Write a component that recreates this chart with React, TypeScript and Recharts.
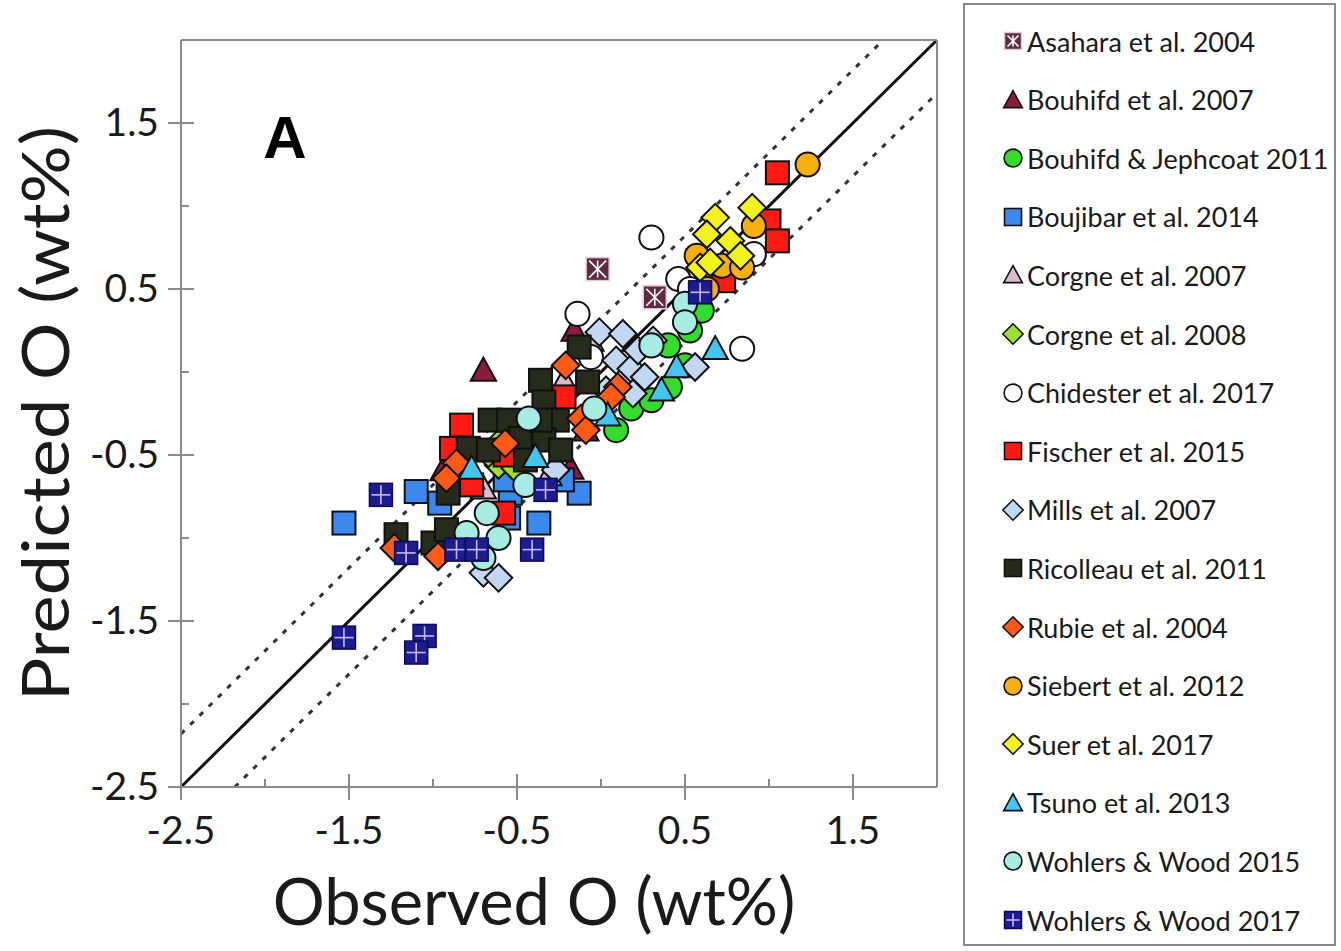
import { ReferenceLine, Scatter, ScatterChart, XAxis, YAxis } from "recharts";

type Pair = [number, number];
type Kind = "asterisk" | "triangle" | "circle" | "square" | "diamond" | "cross";

// observed vs predicted O (wt%) for each study
const asahara2004: Pair[] = [[-0.02, 0.62], [0.32, 0.45]];
const bouhifd2007: Pair[] = [[-0.7, 0.01], [-0.18, -0.58], [-0.09, -0.35], [-0.16, 0.25], [-0.94, -0.59]];
const bouhifdJephcoat2011: Pair[] = [
  [0.6, 0.37], [0.53, 0.25], [0.4, 0.16], [0.5, 0.04], [0.41, -0.09], [0.18, -0.22], [0.09, -0.35], [0.3, -0.17],
];
const boujibar2014: Pair[] = [
  [-1.53, -0.91], [-1.1, -0.72], [-0.96, -0.79], [-0.54, -0.73], [-0.55, -0.88], [-0.37, -0.91], [-0.13, -0.73],
  [-0.23, -0.65], [-0.57, -0.65],
];
const corgne2007: Pair[] = [[-0.7, -0.7], [-0.22, -0.05], [-0.31, -0.62], [-0.06, 0.19], [-0.77, -0.64]];
const corgne2008: Pair[] = [[-0.61, -0.56], [-0.58, -0.4], [-0.67, -0.49], [-0.51, -0.58]];
const chidester2017: Pair[] = [
  [-0.14, 0.35], [0.3, 0.81], [0.46, 0.56], [0.53, 0.5], [0.84, 0.14], [0.91, 0.71], [-0.06, 0.09],
];
const fischer2015: Pair[] = [
  [1.05, 1.2], [1.0, 0.91], [1.05, 0.79], [0.73, 0.55], [-0.22, -0.15], [-0.83, -0.32], [-0.89, -0.46],
  [-0.58, -0.85], [-0.77, -0.68], [-0.57, -0.5],
];
const mills2007: Pair[] = [
  [-0.01, 0.24], [0.13, 0.23], [0.09, 0.07], [0.18, 0.02], [0.26, -0.03], [0.19, -0.13], [0.56, 0.03],
  [0.22, 0.13], [0.31, 0.19], [0.03, -0.11], [-0.7, -1.21], [-0.61, -1.24], [-0.27, -0.59],
];
const ricolleau2011: Pair[] = [
  [-0.13, 0.15], [-0.36, -0.05], [-0.08, -0.06], [-0.34, -0.18], [-0.66, -0.29], [-0.55, -0.29], [-0.26, -0.29],
  [-0.79, -0.46], [-0.67, -0.47], [-0.34, -0.41], [-0.24, -0.47], [-0.48, -0.4], [-0.91, -0.73], [-1.22, -0.98],
  [-1.0, -1.03], [-0.92, -0.95], [-0.36, -0.29], [-0.45, -0.53],
];
const rubie2004: Pair[] = [
  [-0.21, 0.04], [0.1, -0.09], [0.06, -0.15], [-0.12, -0.28], [-0.09, -0.35], [-0.57, -0.43], [-0.86, -0.55],
  [-0.92, -0.64], [-1.23, -1.06], [-0.97, -1.11],
];
const siebert2012: Pair[] = [[1.23, 1.25], [0.91, 0.88], [0.57, 0.7], [0.72, 0.64], [0.84, 0.63], [0.63, 0.5]];
const suer2017: Pair[] = [[0.68, 0.93], [0.9, 0.99], [0.63, 0.83], [0.77, 0.79], [0.83, 0.7], [0.59, 0.63], [0.65, 0.66]];
const tsuno2013: Pair[] = [[0.68, 0.14], [0.45, 0.03], [0.36, -0.11], [0.04, -0.26], [-0.39, -0.51], [-0.77, -0.58]];
const wohlersWood2015: Pair[] = [
  [0.5, 0.41], [0.5, 0.3], [0.3, 0.16], [-0.04, -0.22], [-0.43, -0.28], [-0.45, -0.68], [-0.68, -0.85],
  [-0.61, -1.0], [-0.8, -0.97], [-0.7, -1.12],
];
const wohlersWood2017: Pair[] = [
  [-1.31, -0.74], [-1.16, -1.09], [-0.86, -1.07], [-0.74, -1.07], [-0.33, -0.71], [-0.41, -1.07], [-1.53, -1.6],
  [-1.05, -1.59], [-1.1, -1.69], [0.59, 0.48],
];

const axisTicks = [-2.5, -2, -1.5, -1, -0.5, 0, 0.5, 1, 1.5, 2];
const labelledTicks = [-2.5, -1.5, -0.5, 0.5, 1.5];
const bandOffset = 0.32;

const studies: { name: string; data: Pair[]; kind: Kind; fill: string }[] = [
  { name: "Asahara et al. 2004", data: asahara2004, kind: "asterisk", fill: "#5e2c3e" },
  { name: "Bouhifd et al. 2007", data: bouhifd2007, kind: "triangle", fill: "#8c1c3c" },
  { name: "Bouhifd & Jephcoat 2011", data: bouhifdJephcoat2011, kind: "circle", fill: "#33dd2a" },
  { name: "Boujibar et al. 2014", data: boujibar2014, kind: "square", fill: "#3b88ee" },
  { name: "Corgne et al. 2007", data: corgne2007, kind: "triangle", fill: "#dcbccc" },
  { name: "Corgne et al. 2008", data: corgne2008, kind: "diamond", fill: "#9ee02a" },
  { name: "Chidester et al. 2017", data: chidester2017, kind: "circle", fill: "#ffffff" },
  { name: "Fischer et al. 2015", data: fischer2015, kind: "square", fill: "#ff1a14" },
  { name: "Mills et al. 2007", data: mills2007, kind: "diamond", fill: "#c2d8f2" },
  { name: "Ricolleau et al. 2011", data: ricolleau2011, kind: "square", fill: "#262b1c" },
  { name: "Rubie et al. 2004", data: rubie2004, kind: "diamond", fill: "#ff5a16" },
  { name: "Siebert et al. 2012", data: siebert2012, kind: "circle", fill: "#f5b00c" },
  { name: "Suer et al. 2017", data: suer2017, kind: "diamond", fill: "#f2f21e" },
  { name: "Tsuno et al. 2013", data: tsuno2013, kind: "triangle", fill: "#42c6f0" },
  { name: "Wohlers & Wood 2015", data: wohlersWood2015, kind: "circle", fill: "#a6ece2" },
  { name: "Wohlers & Wood 2017", data: wohlersWood2017, kind: "cross", fill: "#1c1c8e" },
];

const FRAME = "#8a8a8a";
const INK = "#1a1a1a";
const FONT = "Lato, 'Open Sans', sans-serif";

function Marker({ kind, fill, cx, cy, size }: { kind: Kind; fill: string; cx: number; cy: number; size: number }) {
  const h = size / 2;
  const edge = { stroke: "#111", strokeWidth: size > 18 ? 2 : 1.6 };
  if (kind === "circle") return <circle cx={cx} cy={cy} r={h * 1.05} fill={fill} {...edge} />;
  if (kind === "diamond") {
    const d = h * 1.2;
    return <polygon points={`${cx},${cy - d} ${cx + d},${cy} ${cx},${cy + d} ${cx - d},${cy}`} fill={fill} {...edge} />;
  }
  if (kind === "triangle") {
    const w = h * 1.1;
    return <polygon points={`${cx},${cy - w} ${cx + w},${cy + h * 0.9} ${cx - w},${cy + h * 0.9}`} fill={fill} {...edge} />;
  }
  if (kind === "cross") {
    return (
      <g>
        <rect x={cx - h} y={cy - h} width={size} height={size} fill={fill} stroke="#0c0c5a" strokeWidth={1.5} />
        <line x1={cx} x2={cx} y1={cy - h + 2} y2={cy + h - 2} stroke="#c8b8f4" strokeWidth={1.6} />
        <line x1={cx - h + 2} x2={cx + h - 2} y1={cy} y2={cy} stroke="#c8b8f4" strokeWidth={1.6} />
      </g>
    );
  }
  if (kind === "asterisk") {
    const k = h - 3;
    return (
      <g>
        <rect x={cx - h} y={cy - h} width={size} height={size} fill={fill} stroke="#e8c8d4" strokeWidth={1.5} />
        <g stroke="#ffffff" strokeWidth={1.6}>
          <line x1={cx - k} y1={cy - k} x2={cx + k} y2={cy + k} />
          <line x1={cx - k} y1={cy + k} x2={cx + k} y2={cy - k} />
          <line x1={cx} y1={cy - k} x2={cx} y2={cy + k} />
        </g>
      </g>
    );
  }
  return <rect x={cx - h} y={cy - h} width={size} height={size} fill={fill} {...edge} />;
}

const isMajor = (v: number) => labelledTicks.includes(v);

const BottomTick = ({ x, y, payload }: any) => {
  const major = isMajor(payload.value);
  return (
    <g>
      <line x1={x} x2={x} y1={y - (major ? 13 : 8)} y2={major ? y + 13 : y} stroke={FRAME} strokeWidth={2} />
      {major && (
        <text x={x} y={y + 57} textAnchor="middle" fontSize={39} fontFamily={FONT} fill={INK}>
          {payload.value.toFixed(1)}
        </text>
      )}
    </g>
  );
};

const LeftTick = ({ x, y, payload }: any) => {
  const major = isMajor(payload.value);
  return (
    <g>
      <line x1={major ? x - 13 : x} x2={x + (major ? 13 : 8)} y1={y} y2={y} stroke={FRAME} strokeWidth={2} />
      {major && (
        <text x={x - 22} y={y + 13} textAnchor="end" fontSize={39} fontFamily={FONT} fill={INK}>
          {payload.value.toFixed(1)}
        </text>
      )}
    </g>
  );
};

const TopTick = ({ x, y, payload }: any) => (
  <line x1={x} x2={x} y1={y} y2={y + (isMajor(payload.value) ? 13 : 8)} stroke={FRAME} strokeWidth={2} />
);

const RightTick = ({ x, y, payload }: any) => (
  <line x1={x - (isMajor(payload.value) ? 13 : 8)} x2={x} y1={y} y2={y} stroke={FRAME} strokeWidth={2} />
);

export default function App() {
  return (
    <div style={{ position: "absolute", left: 0, top: 0, width: 1341, height: 951, background: "#fff" }}>
      <ScatterChart width={960} height={951} margin={{ top: 30, right: 13, bottom: 104, left: 81 }}>
        <XAxis
          dataKey="x"
          type="number"
          domain={[-2.5, 2]}
          ticks={axisTicks}
          interval={0}
          allowDataOverflow
          height={60}
          tickSize={0}
          tickMargin={0}
          tickLine={false}
          axisLine={{ stroke: FRAME, strokeWidth: 2 }}
          tick={<BottomTick />}
          label={{
            content: ({ viewBox }: any) => (
              <text
                x={viewBox.x + viewBox.width / 2 - 25}
                y={viewBox.y + 138}
                textAnchor="middle"
                fontSize={65}
                fontFamily={FONT}
                fill={INK}
              >
                Observed O (wt%)
              </text>
            ),
          }}
        />
        <XAxis
          xAxisId="top"
          orientation="top"
          type="number"
          domain={[-2.5, 2]}
          ticks={axisTicks}
          interval={0}
          height={10}
          tickSize={0}
          tickMargin={0}
          tickLine={false}
          axisLine={{ stroke: FRAME, strokeWidth: 2 }}
          tick={<TopTick />}
        />
        <YAxis
          dataKey="y"
          type="number"
          domain={[-2.5, 2]}
          ticks={axisTicks}
          interval={0}
          allowDataOverflow
          width={100}
          tickSize={0}
          tickMargin={0}
          tickLine={false}
          axisLine={{ stroke: FRAME, strokeWidth: 2 }}
          tick={<LeftTick />}
          label={{
            content: ({ viewBox }: any) => {
              const cx = viewBox.x - 12;
              const cy = viewBox.y + viewBox.height / 2;
              return (
                <text
                  x={cx}
                  y={cy}
                  transform={`rotate(-90 ${cx} ${cy})`}
                  textAnchor="middle"
                  fontSize={66}
                  textLength={575}
                  lengthAdjust="spacingAndGlyphs"
                  fontFamily={FONT}
                  fill={INK}
                >
                  Predicted O (wt%)
                </text>
              );
            },
          }}
        />
        <YAxis
          yAxisId="right"
          orientation="right"
          type="number"
          domain={[-2.5, 2]}
          ticks={axisTicks}
          interval={0}
          width={10}
          tickSize={0}
          tickMargin={0}
          tickLine={false}
          axisLine={{ stroke: FRAME, strokeWidth: 2 }}
          tick={<RightTick />}
        />

        {/* 1:1 line with the ±offset band */}
        <ReferenceLine
          segment={[{ x: -2.5, y: -2.5 }, { x: 2, y: 2 }]}
          stroke="#111"
          strokeWidth={3}
        />
        <ReferenceLine
          segment={[{ x: -2.5, y: -2.5 + bandOffset }, { x: 2 - bandOffset, y: 2 }]}
          stroke="#333"
          strokeWidth={3}
          strokeDasharray="5 8"
        />
        <ReferenceLine
          segment={[{ x: -2.5 + bandOffset, y: -2.5 }, { x: 2, y: 2 - bandOffset }]}
          stroke="#333"
          strokeWidth={3}
          strokeDasharray="5 8"
        />

        {studies.map((s) => (
          <Scatter
            key={s.name}
            name={s.name}
            data={s.data.map(([x, y]) => ({ x, y }))}
            isAnimationActive={false}
            shape={(p: any) => <Marker kind={s.kind} fill={s.fill} cx={p.cx} cy={p.cy} size={23} />}
          />
        ))}

        <text x={285} y={158} textAnchor="middle" fontSize={60} fontWeight="bold" fontFamily="'Liberation Sans', Arial, sans-serif" fill="#000">
          A
        </text>
      </ScatterChart>

      <div
        style={{
          position: "absolute",
          left: 963,
          top: 3,
          width: 373,
          height: 943,
          border: `2px solid ${FRAME}`,
          boxSizing: "border-box",
        }}
      >
        {studies.map((s, i) => (
          <div
            key={s.name}
            style={{
              position: "absolute",
              left: 36,
              top: 36 + i * 58.6 - 20,
              height: 40,
              display: "flex",
              alignItems: "center",
              whiteSpace: "nowrap",
            }}
          >
            <svg width={24} height={24} style={{ marginRight: 2 }}>
              <Marker kind={s.kind} fill={s.fill} cx={12} cy={12} size={17} />
            </svg>
            <span style={{ fontFamily: FONT, fontSize: 27, color: INK }}>{s.name}</span>
          </div>
        ))}
      </div>
    </div>
  );
}
